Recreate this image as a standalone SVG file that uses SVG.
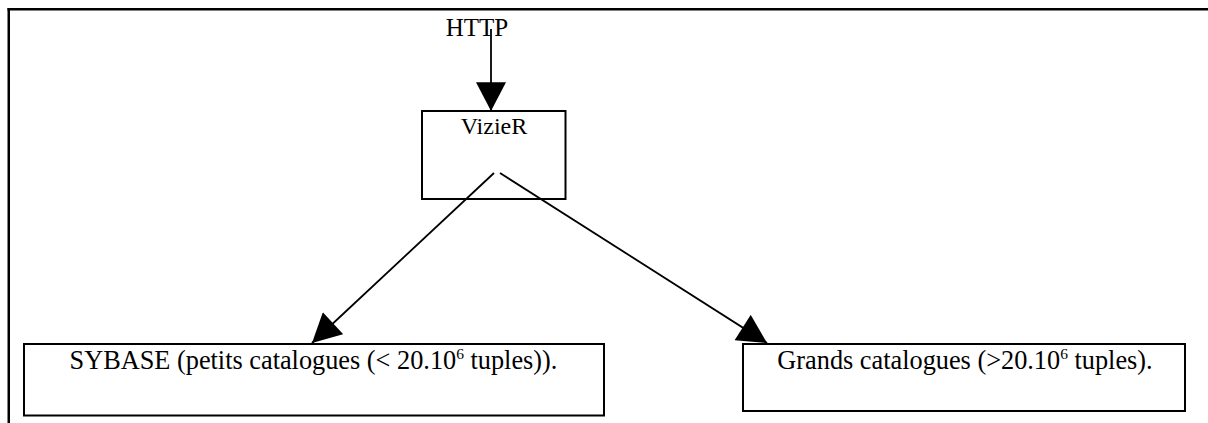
<svg xmlns="http://www.w3.org/2000/svg" width="1208" height="423" viewBox="0 0 1208 423">
<style>
.box{fill:#fff;stroke:#000;stroke-width:2}
.t{font-family:"Liberation Serif","Times New Roman",serif;fill:#000;text-anchor:middle}
.ln{stroke:#000;stroke-width:1.8;fill:none}
</style>
<defs>
<marker id="ah" markerUnits="userSpaceOnUse" markerWidth="30" markerHeight="30" viewBox="0 0 25 26" refX="25" refY="13" orient="auto">
<path d="M0,0 L25,13 L0,26 Z" fill="#000"/>
</marker>
</defs>
<rect width="1208" height="423" fill="#fff"/>
<g id="frame">
<rect x="7.5" y="8" width="1200.5" height="2.5" fill="#000"/>
<rect x="7.5" y="8" width="2.5" height="415" fill="#000"/>
</g>
<g id="http">
<text class="t" x="477" y="36" font-size="25">HTTP</text>
</g>
<g id="vizier">
<rect class="box" x="422" y="111" width="143.5" height="88"/>
<text class="t" x="494" y="134" font-size="24">VizieR</text>
</g>
<g id="sybase">
<rect class="box" x="24" y="344" width="580" height="71.5"/>
<text class="t" x="313.5" y="369" font-size="26.3">SYBASE (petits catalogues (&lt; 20.10<tspan font-size="15.5" dy="-10">6</tspan><tspan dy="10"> tuples)).</tspan></text>
</g>
<g id="grands">
<rect class="box" x="743" y="344" width="442" height="67"/>
<text class="t" x="965" y="369" font-size="26.3">Grands catalogues (&gt;20.10<tspan font-size="15.5" dy="-10">6</tspan><tspan dy="10"> tuples).</tspan></text>
</g>
<g id="connectors">
<line class="ln" x1="491" y1="29" x2="491" y2="111" marker-end="url(#ah)"/>
<line class="ln" x1="494" y1="173" x2="312" y2="343" marker-end="url(#ah)"/>
<line class="ln" x1="500" y1="173" x2="767" y2="343" marker-end="url(#ah)"/>
</g>
</svg>
